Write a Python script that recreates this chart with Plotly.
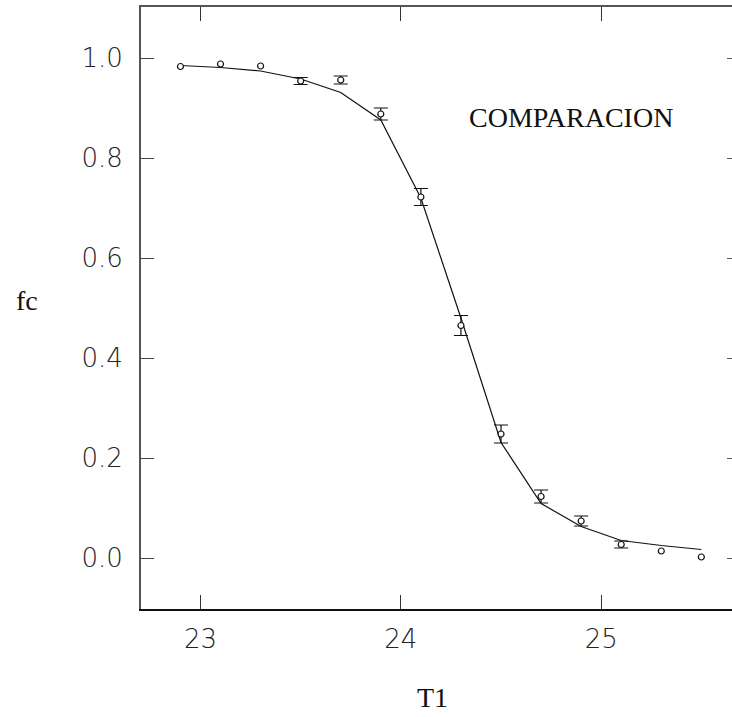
import plotly.graph_objects as go

# Data
t1 = [22.9, 23.1, 23.3, 23.5, 23.7, 23.9, 24.1, 24.3, 24.5, 24.7, 24.9, 25.1, 25.3, 25.5]
fc_obs = [0.983, 0.988, 0.984, 0.954, 0.956, 0.888, 0.722, 0.465, 0.248, 0.123, 0.074, 0.027, 0.014, 0.002]
fc_err = [None, None, None, 0.007, 0.008, 0.012, 0.017, 0.020, 0.018, 0.013, 0.010, 0.007, None, None]
fc_fit = [0.985, 0.981, 0.974, 0.958, 0.931, 0.876, 0.720, 0.480, 0.231, 0.109, 0.063, 0.035, 0.025, 0.017]

x_ticks = [23, 24, 25]
y_ticks = [0.0, 0.2, 0.4, 0.6, 0.8, 1.0]
x_range = [22.703, 25.653]
y_range = [-0.102, 1.102]

ink = "#111111"
fig = go.Figure()

fig.add_trace(go.Scatter(
    x=t1, y=fc_fit, mode="lines",
    line=dict(color=ink, width=1.2),
    showlegend=False, hoverinfo="skip",
))

ex = [x for x, e in zip(t1, fc_err) if e is not None]
ey = [y for y, e in zip(fc_obs, fc_err) if e is not None]
ee = [e for e in fc_err if e is not None]
fig.add_trace(go.Scatter(
    x=ex, y=ey, mode="markers",
    marker=dict(symbol="circle", size=6, color="white", line=dict(color=ink, width=1.2)),
    error_y=dict(type="data", array=ee, visible=True, color=ink, thickness=1.2, width=7),
    showlegend=False,
))
nx = [x for x, e in zip(t1, fc_err) if e is None]
ny = [y for y, e in zip(fc_obs, fc_err) if e is None]
fig.add_trace(go.Scatter(
    x=nx, y=ny, mode="markers",
    marker=dict(symbol="circle", size=6, color="white", line=dict(color=ink, width=1.2)),
    showlegend=False,
))
# invisible trace to activate the mirror axes (top / right ticks)
fig.add_trace(go.Scatter(x=[t1[0]], y=[fc_obs[0]], xaxis="x2", yaxis="y2",
                         mode="markers", marker=dict(opacity=0), showlegend=False,
                         hoverinfo="skip"))

tick_font = dict(family="DejaVu Sans", size=26, color="#222222", weight=200)
serif = dict(family="Liberation Serif", size=28, color="#111111")

fig.update_layout(
    template="none",
    width=732, height=717,
    margin=dict(l=141, r=0, t=7, b=108),
    paper_bgcolor="white", plot_bgcolor="white",
    xaxis=dict(
        range=x_range, tickvals=x_ticks, ticktext=[str(v) for v in x_ticks],
        ticks="inside", ticklen=14, tickwidth=1.2, tickcolor="#333333",
        showline=True, linecolor="#111111", linewidth=1.8, mirror=False,
        showgrid=False, zeroline=False, tickfont=tick_font, ticklabelstandoff=6,
        automargin=False,
    ),
    yaxis=dict(
        range=y_range, tickvals=y_ticks, ticktext=[f"{v:.1f}" for v in y_ticks],
        ticks="inside", ticklen=13, tickwidth=1.2, tickcolor="#444444",
        showline=True, linecolor="#555555", linewidth=1.8, mirror=False,
        showgrid=False, zeroline=False, tickfont=tick_font, ticklabelstandoff=11,
        automargin=False,
    ),
    xaxis2=dict(
        overlaying="x", side="top", range=x_range, tickvals=x_ticks,
        ticks="inside", ticklen=14, tickwidth=1.2, tickcolor="#333333",
        showticklabels=False, showline=True, linecolor="#555555", linewidth=1.5,
        showgrid=False, zeroline=False, automargin=False,
    ),
    yaxis2=dict(
        overlaying="y", side="right", range=y_range, tickvals=y_ticks,
        ticks="inside", ticklen=5, tickwidth=1.2, tickcolor="#555555",
        showticklabels=False, showline=False,
        showgrid=False, zeroline=False, automargin=False,
    ),
    annotations=[
        dict(text="COMPARACION", x=24.85, y=0.882, xref="x", yref="y",
             showarrow=False, font=serif, xanchor="center", yanchor="middle"),
        dict(text="T1", x=432, y=717 - 697, xref="paper", yref="paper",
             showarrow=False, font=serif, xanchor="center", yanchor="middle"),
        dict(text="fc", x=27, y=717 - 300, xref="paper", yref="paper",
             showarrow=False, font=serif, xanchor="center", yanchor="middle"),
    ],
)

pw = 732 - 141
ph = 717 - 7 - 108
for a in fig.layout.annotations:
    if a.xref == "paper":
        a.x = (a.x - 141) / pw
        a.y = (a.y - 108) / ph

fig.write_html("out.html")
